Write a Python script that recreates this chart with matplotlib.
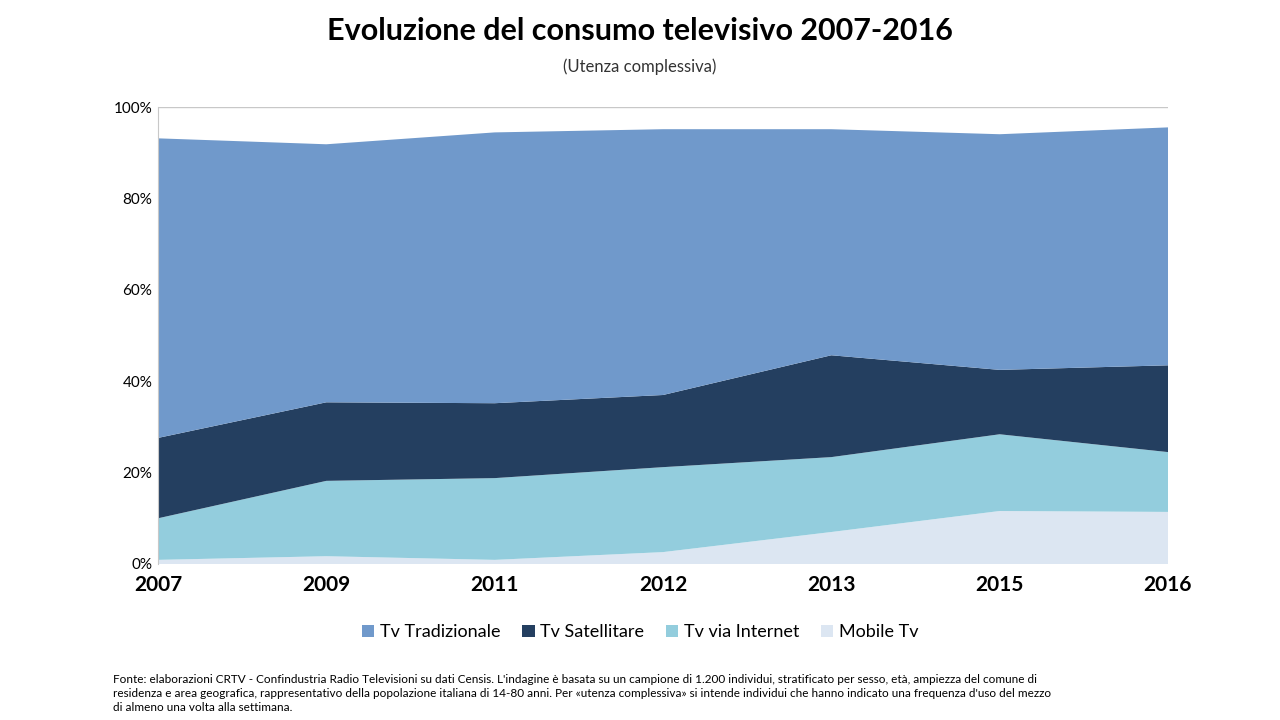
import matplotlib
matplotlib.use("Agg")
import matplotlib.pyplot as plt
from matplotlib.ticker import FuncFormatter

years = ["2007", "2009", "2011", "2012", "2013", "2015", "2016"]
mobile = [0.9, 1.7, 0.9, 2.6, 7.0, 11.6, 11.4]
internet = [9.1, 16.5, 17.9, 18.6, 16.4, 16.8, 13.1]
satellitare = [17.6, 17.2, 16.4, 15.8, 22.3, 14.1, 19.0]
tradizionale = [65.6, 56.5, 59.3, 58.2, 49.5, 51.6, 52.1]

plt.rcParams['font.family'] = ['Lato', 'DejaVu Sans']
fig = plt.figure(figsize=(12.8, 7.2), dpi=100)
ax = fig.add_axes([0.1234, 0.2167, 0.7891, 0.6343])
x = list(range(len(years)))
cols = ["#DCE6F2", "#93CDDD", "#243F60", "#7099CB"]
ax.stackplot(x, mobile, internet, satellitare, tradizionale, colors=cols,
             labels=["Mobile Tv", "Tv via Internet", "Tv Satellitare", "Tv Tradizionale"])
ax.set_xlim(0, len(years) - 1)
ax.set_ylim(0, 100)
ax.set_yticks([0, 20, 40, 60, 80, 100])
ax.yaxis.set_major_formatter(FuncFormatter(lambda v, p: f"{int(v)}%"))
ax.set_xticks(x)
ax.set_xticklabels(years, fontsize=15, fontweight='bold')
ax.tick_params(axis='y', labelsize=11, length=0, pad=4)
ax.tick_params(axis='x', length=0, pad=8)
ax.axhline(100, color='#c8c8c8', lw=1)
for s in ['top', 'right', 'bottom']:
    ax.spines[s].set_visible(False)
ax.spines['left'].set_color('#c8c8c8')

h, l = ax.get_legend_handles_labels()
fig.legend(h[::-1], l[::-1], loc='center', bbox_to_anchor=(0.5, 0.122), ncol=4,
           frameon=False, fontsize=13, handlelength=0.7, handleheight=0.7,
           columnspacing=1.2, handletextpad=0.3)

fig.text(0.5, 0.945, "Evoluzione del consumo televisivo 2007-2016", ha='center',
         fontsize=22, fontweight='bold')
fig.text(0.5, 0.9, "(Utenza complessiva)", ha='center', fontsize=12, color='#333333')
fig.text(0.088, 0.01,
         "Fonte: elaborazioni CRTV - Confindustria Radio Televisioni su dati Censis. L'indagine è basata su un campione di 1.200 individui, stratificato per sesso, età, ampiezza del comune di\n"
         "residenza e area geografica, rappresentativo della popolazione italiana di 14-80 anni. Per «utenza complessiva» si intende individui che hanno indicato una frequenza d'uso del mezzo\n"
         "di almeno una volta alla settimana.",
         fontsize=8.5, ha='left', va='bottom', linespacing=1.3)
fig.savefig("out.png", dpi=100)
